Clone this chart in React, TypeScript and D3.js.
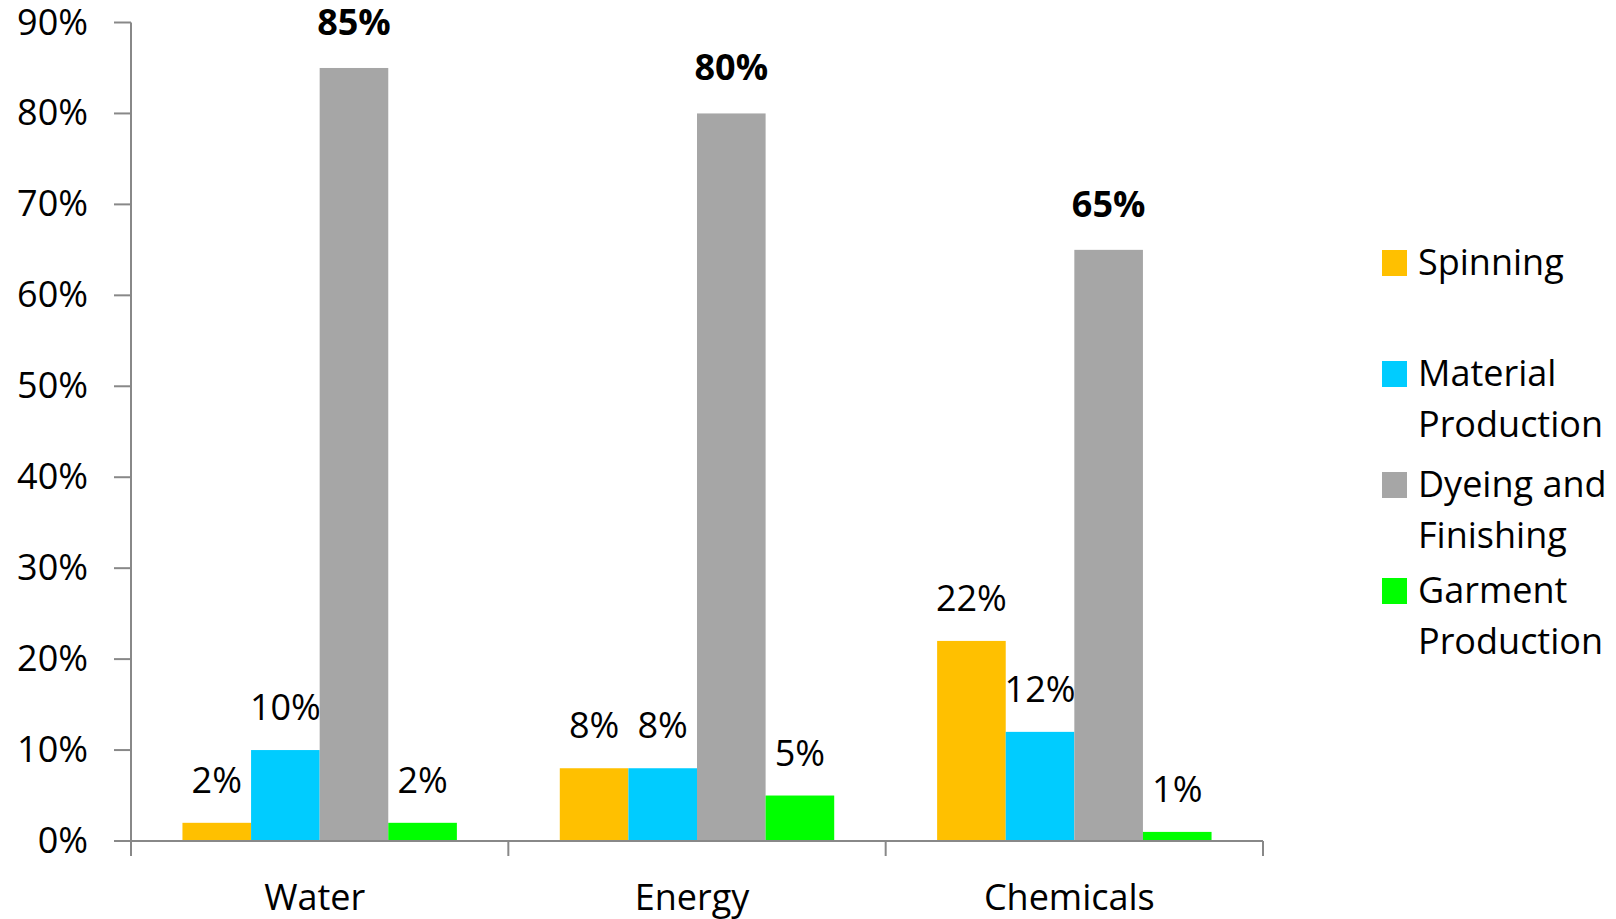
import React from 'react';
import * as d3 from 'd3';

const categories = ['Water', 'Energy', 'Chemicals'];
const seriesNames = ['Spinning', 'Material Production', 'Dyeing and Finishing', 'Garment Production'];
const seriesColors = ['#FFC000', '#00CCFF', '#A6A6A6', '#00FF00'];
const legendLines = [['Spinning'], ['Material', 'Production'], ['Dyeing and', 'Finishing'], ['Garment', 'Production']];
// values per series, in category order
const spinning = [0.02, 0.08, 0.22];
const material = [0.10, 0.08, 0.12];
const dyeing = [0.85, 0.80, 0.65];
const garment = [0.02, 0.05, 0.01];
const yTicks = [0, 0.1, 0.2, 0.3, 0.4, 0.5, 0.6, 0.7, 0.8, 0.9];

const seriesValues = [spinning, material, dyeing, garment];

const W = 1616;
const H = 919;
const FONT = '"Open Sans", sans-serif';

export default function App() {
  const x = d3.scaleBand<string>().domain(categories).range([131, 1263]).padding(0);
  const inner = d3
    .scaleBand<string>()
    .domain(seriesNames)
    .range([0, x.bandwidth()])
    .paddingInner(0)
    .paddingOuter(0.75);
  const y = d3.scaleLinear().domain([0, 0.9]).range([841, 22.5]);
  const fmt = d3.format('.0%');

  const legendY = [275, 386, 497, 603];

  return (
    <svg width={W} height={H} style={{ position: 'absolute', left: 0, top: 0, background: '#fff' }} fontFamily={FONT}>
      {/* bars */}
      {categories.map((c, ci) => (
        <g key={c} transform={`translate(${x(c)},0)`}>
          {seriesNames.map((s, si) => {
            const v = seriesValues[si][ci];
            const bx = inner(s)!;
            return (
              <g key={s}>
                <rect x={bx} y={y(v)} width={inner.bandwidth()} height={y(0) - y(v)} fill={seriesColors[si]} />
                <text
                  x={bx + inner.bandwidth() / 2}
                  y={y(v) - (si === 2 ? 33 : 30)}
                  textAnchor="middle"
                  fontSize={36}
                  fontWeight={si === 2 ? 'bold' : 'normal'}
                  fill="#000"
                >
                  {fmt(v)}
                </text>
              </g>
            );
          })}
        </g>
      ))}

      {/* y axis */}
      <line x1={131} x2={131} y1={y(0.9)} y2={y(0)} stroke="#888" strokeWidth={2} />
      {yTicks.map((t) => (
        <g key={t}>
          <line x1={114} x2={131} y1={y(t)} y2={y(t)} stroke="#888" strokeWidth={2} />
          <text x={88} y={y(t) + 12} textAnchor="end" fontSize={36} fill="#000">
            {fmt(t)}
          </text>
        </g>
      ))}

      {/* x axis */}
      <line x1={131} x2={1263} y1={y(0)} y2={y(0)} stroke="#888" strokeWidth={2} />
      {[...categories.map((c) => x(c)!), x.range()[1]].map((px, i) => (
        <line key={i} x1={px} x2={px} y1={y(0)} y2={y(0) + 15} stroke="#888" strokeWidth={2} />
      ))}
      {categories.map((c) => (
        <text key={c} x={x(c)! + x.bandwidth() / 2 - 5} y={910} textAnchor="middle" fontSize={36} fill="#000">
          {c}
        </text>
      ))}

      {/* legend */}
      {seriesNames.map((s, si) => (
        <g key={s}>
          <rect x={1382} y={legendY[si] - 25} width={25} height={26} fill={seriesColors[si]} />
          {legendLines[si].map((ln, li) => (
            <text key={li} x={1418} y={legendY[si] + li * 51} fontSize={36} fill="#000">
              {ln}
            </text>
          ))}
        </g>
      ))}
    </svg>
  );
}
